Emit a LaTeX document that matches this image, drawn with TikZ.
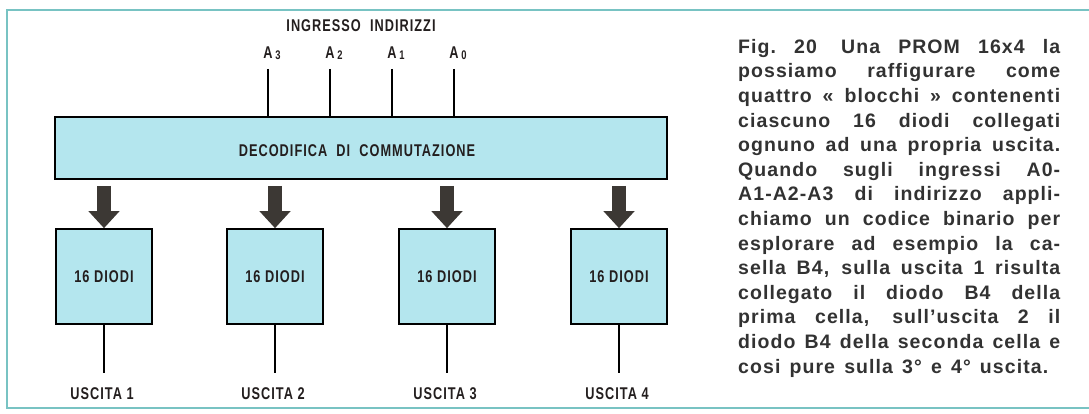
\documentclass[tikz,border=0pt]{standalone}
\usepackage{fontspec}
\setmainfont{Liberation Sans}
\newfontfamily\condfont[FakeStretch=0.75,LetterSpace=6]{Liberation Sans Bold}
\newfontfamily\capfont[LetterSpace=5.5]{Liberation Sans Bold}
\usetikzlibrary{arrows.meta}
\definecolor{cyanfill}{RGB}{180,230,238}
\definecolor{framec}{RGB}{120,195,195}
\definecolor{arrowc}{RGB}{60,56,52}
\definecolor{labelc}{RGB}{35,30,30}
\definecolor{captionc}{RGB}{50,50,50}
\newcommand{\capline}[2][322pt]{{\spaceskip=0.28em plus 1fil\xspaceskip=0.28em plus 1fil\makebox[#1][s]{#2}}}
\begin{document}
\begin{tikzpicture}[x=1pt,y=-1pt,
  frameline/.style={draw=framec, line width=1.4pt},
  wire/.style={draw=black, line width=1.6pt},
  lbl/.style={font=\condfont\fontsize{17}{20}\selectfont, text=labelc, inner sep=0pt},
  blockbar/.style={draw=black, line width=1.6pt, fill=cyanfill, minimum width=612pt, minimum height=62pt, inner sep=0pt},
  diodebox/.style={lbl, draw=black, line width=1.6pt, fill=cyanfill, minimum width=96pt, minimum height=95pt},
  bigarrow/.style={draw=arrowc, line width=14pt, -{Triangle[length=17pt,width=30pt]}, shorten <=6pt},
]
\useasboundingbox (0,0) rectangle (1089,414);
\draw[frameline] (1089,10) -- (7,10) -- (7,408) -- (1089,408);

\node[lbl] (title) at (361,26) {INGRESSO\ \ INDIRIZZI};
\node[blockbar] (dec) at (361,148) {};
\node[lbl] (dect) at (357,151) {DECODIFICA\ \ DI\ \ COMMUTAZIONE};

\foreach \i/\x in {3/268, 2/330, 1/392, 0/454} {
  \coordinate (in\i) at (\x,69);
  \draw[wire] (in\i) -- (in\i |- dec.north);
  \node[lbl] (a\i) at (\x+4,53) {A\,\raisebox{-0.5pt}{\fontsize{12.5}{13}\selectfont\i}};
}

\foreach \n/\x in {1/104, 2/275, 3/447, 4/619} {
  \node[diodebox] (b\n) at (\x,276.5) {16 DIODI};
  \draw[bigarrow] (b\n.north |- dec.south) -- (b\n.north);
  \coordinate (o\n) at (\x,373);
  \draw[wire] (b\n.south) -- (o\n);
  \node[lbl] (u\n) at (\x-2,394) {USCITA \n};
}

\node[anchor=north west, inner sep=0pt, text width=322pt, align=left,
      font=\capfont\fontsize{19.5}{24.6}\selectfont, text=captionc] (cap) at (738,39) {%
\capline{Fig. 20\hspace{6pt} Una PROM 16x4 la}\\
\capline{possiamo raffigurare come}\\
\capline{quattro « blocchi » contenenti}\\
\capline{ciascuno 16 diodi collegati}\\
\capline{ognuno ad una propria uscita.}\\
\capline{Quando sugli ingressi A0-}\\
\capline{A1-A2-A3 di indirizzo appli-}\\
\capline{chiamo un codice binario per}\\
\capline{esplorare ad esempio la ca-}\\
\capline{sella B4, sulla uscita 1 risulta}\\
\capline{collegato il diodo B4 della}\\
\capline{prima cella, sull’uscita 2 il}\\
\capline{diodo B4 della seconda cella e}\\
\capline[310pt]{cosi pure sulla 3° e 4° uscita.}};
\end{tikzpicture}
\end{document}
